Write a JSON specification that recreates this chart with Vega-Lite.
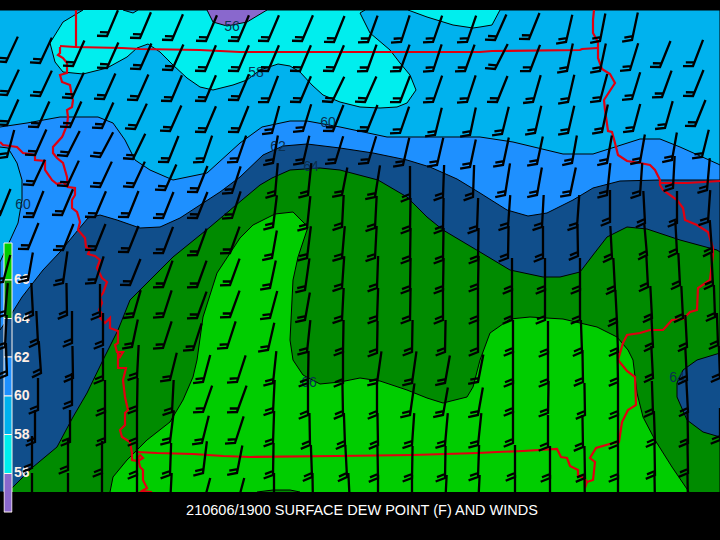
{
  "$schema": "https://vega.github.io/schema/vega-lite/v6.json",
  "width": 720,
  "height": 540,
  "padding": 0,
  "autosize": "none",
  "background": "#000000",
  "config": {"view": {"stroke": null}},
  "datasets": {
    "contours": [
      {"poly":"base","band":"58-60","x":0,"y":10},{"poly":"base","band":"58-60","x":720,"y":10},{"poly":"base","band":"58-60","x":720,"y":492},{"poly":"base","band":"58-60","x":0,"y":492},
      {"poly":"c1","band":"56-58","x":83,"y":10},{"poly":"c1","band":"56-58","x":63,"y":22},{"poly":"c1","band":"56-58","x":50,"y":43},{"poly":"c1","band":"56-58","x":55,"y":62},{"poly":"c1","band":"56-58","x":63,"y":72},{"poly":"c1","band":"56-58","x":83,"y":74},{"poly":"c1","band":"56-58","x":107,"y":68},{"poly":"c1","band":"56-58","x":127,"y":57},{"poly":"c1","band":"56-58","x":137,"y":48},{"poly":"c1","band":"56-58","x":148,"y":44},{"poly":"c1","band":"56-58","x":160,"y":52},{"poly":"c1","band":"56-58","x":173,"y":65},{"poly":"c1","band":"56-58","x":187,"y":78},{"poly":"c1","band":"56-58","x":200,"y":87},{"poly":"c1","band":"56-58","x":213,"y":90},{"poly":"c1","band":"56-58","x":233,"y":85},{"poly":"c1","band":"56-58","x":247,"y":80},{"poly":"c1","band":"56-58","x":260,"y":70},{"poly":"c1","band":"56-58","x":278,"y":64},{"poly":"c1","band":"56-58","x":290,"y":66},{"poly":"c1","band":"56-58","x":300,"y":72},{"poly":"c1","band":"56-58","x":312,"y":85},{"poly":"c1","band":"56-58","x":323,"y":95},{"poly":"c1","band":"56-58","x":340,"y":102},{"poly":"c1","band":"56-58","x":360,"y":107},{"poly":"c1","band":"56-58","x":380,"y":108},{"poly":"c1","band":"56-58","x":397,"y":107},{"poly":"c1","band":"56-58","x":407,"y":103},{"poly":"c1","band":"56-58","x":416,"y":90},{"poly":"c1","band":"56-58","x":410,"y":75},{"poly":"c1","band":"56-58","x":400,"y":63},{"poly":"c1","band":"56-58","x":390,"y":50},{"poly":"c1","band":"56-58","x":370,"y":33},{"poly":"c1","band":"56-58","x":365,"y":23},{"poly":"c1","band":"56-58","x":360,"y":13},{"poly":"c1","band":"56-58","x":365,"y":10},{"poly":"c1","band":"56-58","x":138,"y":10},{"poly":"c1","band":"56-58","x":133,"y":13},{"poly":"c1","band":"56-58","x":123,"y":10},
      {"poly":"c2","band":"56-58","x":408,"y":10},{"poly":"c2","band":"56-58","x":427,"y":17},{"poly":"c2","band":"56-58","x":453,"y":25},{"poly":"c2","band":"56-58","x":473,"y":28},{"poly":"c2","band":"56-58","x":480,"y":27},{"poly":"c2","band":"56-58","x":492,"y":25},{"poly":"c2","band":"56-58","x":500,"y":10},
      {"poly":"p1","band":"below 56","x":207,"y":10},{"poly":"p1","band":"below 56","x":213,"y":22},{"poly":"p1","band":"below 56","x":227,"y":26},{"poly":"p1","band":"below 56","x":247,"y":22},{"poly":"p1","band":"below 56","x":267,"y":10},
      {"poly":"d1","band":"60-62","x":0,"y":127},{"poly":"d1","band":"60-62","x":27,"y":123},{"poly":"d1","band":"60-62","x":60,"y":117},{"poly":"d1","band":"60-62","x":98,"y":117},{"poly":"d1","band":"60-62","x":113,"y":123},{"poly":"d1","band":"60-62","x":125,"y":140},{"poly":"d1","band":"60-62","x":135,"y":160},{"poly":"d1","band":"60-62","x":150,"y":170},{"poly":"d1","band":"60-62","x":173,"y":180},{"poly":"d1","band":"60-62","x":207,"y":173},{"poly":"d1","band":"60-62","x":240,"y":143},{"poly":"d1","band":"60-62","x":262,"y":127},{"poly":"d1","band":"60-62","x":290,"y":121},{"poly":"d1","band":"60-62","x":307,"y":121},{"poly":"d1","band":"60-62","x":340,"y":127},{"poly":"d1","band":"60-62","x":387,"y":137},{"poly":"d1","band":"60-62","x":427,"y":137},{"poly":"d1","band":"60-62","x":480,"y":137},{"poly":"d1","band":"60-62","x":513,"y":142},{"poly":"d1","band":"60-62","x":563,"y":154},{"poly":"d1","band":"60-62","x":593,"y":154},{"poly":"d1","band":"60-62","x":640,"y":139},{"poly":"d1","band":"60-62","x":660,"y":139},{"poly":"d1","band":"60-62","x":680,"y":147},{"poly":"d1","band":"60-62","x":718,"y":164},{"poly":"d1","band":"60-62","x":720,"y":165},{"poly":"d1","band":"60-62","x":720,"y":260},{"poly":"d1","band":"60-62","x":100,"y":400},{"poly":"d1","band":"60-62","x":0,"y":400},{"poly":"d1","band":"60-62","x":0,"y":262},{"poly":"d1","band":"60-62","x":7,"y":247},{"poly":"d1","band":"60-62","x":18,"y":223},{"poly":"d1","band":"60-62","x":22,"y":200},{"poly":"d1","band":"60-62","x":22,"y":180},{"poly":"d1","band":"60-62","x":17,"y":163},{"poly":"d1","band":"60-62","x":8,"y":148},{"poly":"d1","band":"60-62","x":0,"y":147},
      {"poly":"n1","band":"62-64","x":0,"y":330},{"poly":"n1","band":"62-64","x":12,"y":313},{"poly":"n1","band":"62-64","x":22,"y":297},{"poly":"n1","band":"62-64","x":43,"y":270},{"poly":"n1","band":"62-64","x":60,"y":252},{"poly":"n1","band":"62-64","x":78,"y":230},{"poly":"n1","band":"62-64","x":88,"y":218},{"poly":"n1","band":"62-64","x":100,"y":215},{"poly":"n1","band":"62-64","x":117,"y":220},{"poly":"n1","band":"62-64","x":140,"y":228},{"poly":"n1","band":"62-64","x":160,"y":227},{"poly":"n1","band":"62-64","x":180,"y":218},{"poly":"n1","band":"62-64","x":200,"y":205},{"poly":"n1","band":"62-64","x":220,"y":192},{"poly":"n1","band":"62-64","x":240,"y":177},{"poly":"n1","band":"62-64","x":263,"y":155},{"poly":"n1","band":"62-64","x":283,"y":146},{"poly":"n1","band":"62-64","x":307,"y":144},{"poly":"n1","band":"62-64","x":340,"y":148},{"poly":"n1","band":"62-64","x":373,"y":153},{"poly":"n1","band":"62-64","x":407,"y":160},{"poly":"n1","band":"62-64","x":430,"y":167},{"poly":"n1","band":"62-64","x":457,"y":179},{"poly":"n1","band":"62-64","x":480,"y":193},{"poly":"n1","band":"62-64","x":507,"y":210},{"poly":"n1","band":"62-64","x":528,"y":216},{"poly":"n1","band":"62-64","x":547,"y":213},{"poly":"n1","band":"62-64","x":573,"y":200},{"poly":"n1","band":"62-64","x":593,"y":188},{"poly":"n1","band":"62-64","x":620,"y":181},{"poly":"n1","band":"62-64","x":660,"y":180},{"poly":"n1","band":"62-64","x":720,"y":180},{"poly":"n1","band":"62-64","x":720,"y":300},{"poly":"n1","band":"62-64","x":300,"y":492},{"poly":"n1","band":"62-64","x":0,"y":492},
      {"poly":"g1","band":"64-66","x":8,"y":492},{"poly":"g1","band":"64-66","x":12,"y":488},{"poly":"g1","band":"64-66","x":33,"y":467},{"poly":"g1","band":"64-66","x":57,"y":447},{"poly":"g1","band":"64-66","x":73,"y":417},{"poly":"g1","band":"64-66","x":87,"y":393},{"poly":"g1","band":"64-66","x":103,"y":360},{"poly":"g1","band":"64-66","x":108,"y":350},{"poly":"g1","band":"64-66","x":118,"y":330},{"poly":"g1","band":"64-66","x":130,"y":300},{"poly":"g1","band":"64-66","x":143,"y":287},{"poly":"g1","band":"64-66","x":173,"y":257},{"poly":"g1","band":"64-66","x":210,"y":227},{"poly":"g1","band":"64-66","x":242,"y":200},{"poly":"g1","band":"64-66","x":260,"y":185},{"poly":"g1","band":"64-66","x":272,"y":178},{"poly":"g1","band":"64-66","x":290,"y":170},{"poly":"g1","band":"64-66","x":320,"y":168},{"poly":"g1","band":"64-66","x":340,"y":170},{"poly":"g1","band":"64-66","x":378,"y":180},{"poly":"g1","band":"64-66","x":407,"y":197},{"poly":"g1","band":"64-66","x":427,"y":217},{"poly":"g1","band":"64-66","x":443,"y":230},{"poly":"g1","band":"64-66","x":480,"y":252},{"poly":"g1","band":"64-66","x":510,"y":270},{"poly":"g1","band":"64-66","x":543,"y":277},{"poly":"g1","band":"64-66","x":560,"y":277},{"poly":"g1","band":"64-66","x":580,"y":272},{"poly":"g1","band":"64-66","x":593,"y":255},{"poly":"g1","band":"64-66","x":607,"y":237},{"poly":"g1","band":"64-66","x":627,"y":227},{"poly":"g1","band":"64-66","x":647,"y":229},{"poly":"g1","band":"64-66","x":680,"y":240},{"poly":"g1","band":"64-66","x":717,"y":250},{"poly":"g1","band":"64-66","x":720,"y":252},{"poly":"g1","band":"64-66","x":720,"y":492},
      {"poly":"n2","band":"62-64","x":720,"y":353},{"poly":"n2","band":"62-64","x":697,"y":360},{"poly":"n2","band":"62-64","x":683,"y":370},{"poly":"n2","band":"62-64","x":677,"y":383},{"poly":"n2","band":"62-64","x":677,"y":397},{"poly":"n2","band":"62-64","x":687,"y":420},{"poly":"n2","band":"62-64","x":703,"y":432},{"poly":"n2","band":"62-64","x":720,"y":437},
      {"poly":"l1","band":"66-68","x":110,"y":492},{"poly":"l1","band":"66-68","x":113,"y":477},{"poly":"l1","band":"66-68","x":127,"y":460},{"poly":"l1","band":"66-68","x":147,"y":440},{"poly":"l1","band":"66-68","x":170,"y":422},{"poly":"l1","band":"66-68","x":183,"y":400},{"poly":"l1","band":"66-68","x":193,"y":377},{"poly":"l1","band":"66-68","x":197,"y":360},{"poly":"l1","band":"66-68","x":203,"y":317},{"poly":"l1","band":"66-68","x":217,"y":273},{"poly":"l1","band":"66-68","x":240,"y":238},{"poly":"l1","band":"66-68","x":253,"y":225},{"poly":"l1","band":"66-68","x":275,"y":214},{"poly":"l1","band":"66-68","x":293,"y":212},{"poly":"l1","band":"66-68","x":308,"y":227},{"poly":"l1","band":"66-68","x":298,"y":257},{"poly":"l1","band":"66-68","x":293,"y":280},{"poly":"l1","band":"66-68","x":291,"y":320},{"poly":"l1","band":"66-68","x":290,"y":340},{"poly":"l1","band":"66-68","x":293,"y":360},{"poly":"l1","band":"66-68","x":303,"y":375},{"poly":"l1","band":"66-68","x":320,"y":384},{"poly":"l1","band":"66-68","x":340,"y":382},{"poly":"l1","band":"66-68","x":360,"y":378},{"poly":"l1","band":"66-68","x":380,"y":381},{"poly":"l1","band":"66-68","x":407,"y":390},{"poly":"l1","band":"66-68","x":427,"y":398},{"poly":"l1","band":"66-68","x":443,"y":403},{"poly":"l1","band":"66-68","x":467,"y":397},{"poly":"l1","band":"66-68","x":473,"y":387},{"poly":"l1","band":"66-68","x":480,"y":360},{"poly":"l1","band":"66-68","x":490,"y":333},{"poly":"l1","band":"66-68","x":510,"y":319},{"poly":"l1","band":"66-68","x":530,"y":317},{"poly":"l1","band":"66-68","x":563,"y":319},{"poly":"l1","band":"66-68","x":597,"y":327},{"poly":"l1","band":"66-68","x":617,"y":337},{"poly":"l1","band":"66-68","x":628,"y":350},{"poly":"l1","band":"66-68","x":633,"y":360},{"poly":"l1","band":"66-68","x":637,"y":393},{"poly":"l1","band":"66-68","x":643,"y":417},{"poly":"l1","band":"66-68","x":655,"y":440},{"poly":"l1","band":"66-68","x":672,"y":467},{"poly":"l1","band":"66-68","x":689,"y":492},
      {"poly":"g2","band":"64-66","x":257,"y":492},{"poly":"g2","band":"64-66","x":273,"y":490},{"poly":"g2","band":"64-66","x":290,"y":490},{"poly":"g2","band":"64-66","x":300,"y":492}
    ],
    "borders": [
      {"id":"a","x":76,"y":10},{"id":"a","x":76,"y":47},
      {"id":"b","x":60,"y":46},{"id":"b","x":75,"y":47},{"id":"b","x":122,"y":48},{"id":"b","x":140,"y":49},{"id":"b","x":200,"y":50},{"id":"b","x":240,"y":52},{"id":"b","x":480,"y":52},{"id":"b","x":492,"y":51},{"id":"b","x":580,"y":50},{"id":"b","x":582,"y":49},{"id":"b","x":598,"y":48},
      {"id":"c","x":60,"y":47},{"id":"c","x":60,"y":53},{"id":"c","x":58,"y":55},{"id":"c","x":63,"y":58},{"id":"c","x":67,"y":63},{"id":"c","x":67,"y":73},{"id":"c","x":60,"y":75},{"id":"c","x":62,"y":82},{"id":"c","x":70,"y":85},{"id":"c","x":72,"y":97},{"id":"c","x":73,"y":100},{"id":"c","x":72,"y":107},{"id":"c","x":67,"y":110},{"id":"c","x":68,"y":117},{"id":"c","x":67,"y":125},{"id":"c","x":63,"y":135},{"id":"c","x":62,"y":137},{"id":"c","x":53,"y":147},{"id":"c","x":53,"y":153},{"id":"c","x":57,"y":158},{"id":"c","x":63,"y":163},{"id":"c","x":67,"y":177},{"id":"c","x":68,"y":187},{"id":"c","x":75,"y":188},{"id":"c","x":75,"y":195},{"id":"c","x":72,"y":200},{"id":"c","x":72,"y":208},{"id":"c","x":77,"y":212},{"id":"c","x":80,"y":222},{"id":"c","x":78,"y":230},{"id":"c","x":85,"y":238},{"id":"c","x":86,"y":247},{"id":"c","x":90,"y":249},{"id":"c","x":88,"y":254},{"id":"c","x":95,"y":256},{"id":"c","x":100,"y":260},{"id":"c","x":97,"y":268},{"id":"c","x":102,"y":278},{"id":"c","x":107,"y":282},{"id":"c","x":103,"y":293},{"id":"c","x":100,"y":297},{"id":"c","x":102,"y":303},{"id":"c","x":99,"y":310},{"id":"c","x":103,"y":315},{"id":"c","x":100,"y":318},{"id":"c","x":105,"y":323},{"id":"c","x":110,"y":318},{"id":"c","x":110,"y":328},{"id":"c","x":118,"y":331},{"id":"c","x":118,"y":343},{"id":"c","x":115,"y":345},{"id":"c","x":117,"y":352},{"id":"c","x":123,"y":352},{"id":"c","x":120,"y":357},{"id":"c","x":118,"y":353},{"id":"c","x":118,"y":368},{"id":"c","x":126,"y":368},{"id":"c","x":123,"y":380},{"id":"c","x":125,"y":397},{"id":"c","x":128,"y":410},{"id":"c","x":125,"y":413},{"id":"c","x":125,"y":425},{"id":"c","x":120,"y":430},{"id":"c","x":122,"y":437},{"id":"c","x":130,"y":442},{"id":"c","x":132,"y":453},{"id":"c","x":132,"y":460},{"id":"c","x":138,"y":461},{"id":"c","x":143,"y":458},{"id":"c","x":140,"y":455},{"id":"c","x":138,"y":458},{"id":"c","x":140,"y":467},{"id":"c","x":143,"y":470},{"id":"c","x":143,"y":480},{"id":"c","x":147,"y":488},{"id":"c","x":142,"y":491},{"id":"c","x":152,"y":492},
      {"id":"d","x":0,"y":142},{"id":"d","x":3,"y":145},{"id":"d","x":17,"y":147},{"id":"d","x":23,"y":153},{"id":"d","x":35,"y":155},{"id":"d","x":35,"y":160},{"id":"d","x":45,"y":161},{"id":"d","x":45,"y":170},{"id":"d","x":50,"y":177},{"id":"d","x":52,"y":180},{"id":"d","x":57,"y":184},{"id":"d","x":63,"y":182},{"id":"d","x":68,"y":187},
      {"id":"e","x":137,"y":452},{"id":"e","x":157,"y":453},{"id":"e","x":193,"y":454},{"id":"e","x":223,"y":456},{"id":"e","x":250,"y":457},{"id":"e","x":337,"y":456},{"id":"e","x":413,"y":455},{"id":"e","x":478,"y":453},{"id":"e","x":497,"y":452},{"id":"e","x":523,"y":451},{"id":"e","x":557,"y":449},{"id":"e","x":561,"y":457},{"id":"e","x":567,"y":458},{"id":"e","x":570,"y":466},{"id":"e","x":578,"y":470},{"id":"e","x":578,"y":475},{"id":"e","x":585,"y":479},{"id":"e","x":587,"y":482},{"id":"e","x":585,"y":488},
      {"id":"f","x":587,"y":482},{"id":"f","x":593,"y":480},{"id":"f","x":595,"y":462},{"id":"f","x":590,"y":458},{"id":"f","x":596,"y":448},{"id":"f","x":613,"y":443},{"id":"f","x":619,"y":442},{"id":"f","x":622,"y":422},{"id":"f","x":628,"y":410},{"id":"f","x":636,"y":405},{"id":"f","x":635,"y":377},{"id":"f","x":627,"y":371},{"id":"f","x":618,"y":360},{"id":"f","x":623,"y":343},{"id":"f","x":627,"y":335},{"id":"f","x":640,"y":333},{"id":"f","x":650,"y":330},{"id":"f","x":663,"y":330},{"id":"f","x":672,"y":320},{"id":"f","x":683,"y":319},{"id":"f","x":690,"y":312},{"id":"f","x":697,"y":310},{"id":"f","x":698,"y":288},{"id":"f","x":710,"y":280},{"id":"f","x":713,"y":255},{"id":"f","x":713,"y":248},{"id":"f","x":708,"y":232},{"id":"f","x":697,"y":225},{"id":"f","x":685,"y":220},{"id":"f","x":683,"y":208},{"id":"f","x":677,"y":200},{"id":"f","x":663,"y":190},{"id":"f","x":660,"y":185},{"id":"f","x":660,"y":180},{"id":"f","x":655,"y":170},{"id":"f","x":650,"y":165},{"id":"f","x":640,"y":163},{"id":"f","x":627,"y":161},{"id":"f","x":618,"y":155},{"id":"f","x":615,"y":143},{"id":"f","x":612,"y":132},{"id":"f","x":608,"y":131},{"id":"f","x":605,"y":110},{"id":"f","x":604,"y":100},{"id":"f","x":615,"y":83},{"id":"f","x":610,"y":74},{"id":"f","x":602,"y":69},{"id":"f","x":598,"y":58},{"id":"f","x":598,"y":42},{"id":"f","x":593,"y":33},{"id":"f","x":593,"y":20},{"id":"f","x":594,"y":10},
      {"id":"g","x":660,"y":183},{"id":"g","x":687,"y":183},{"id":"g","x":720,"y":181}
    ],
    "scale": [
      {"band":"66-68","x":4,"x2":12,"y":243,"y2":280},
      {"band":"64-66","x":4,"x2":12,"y":280,"y2":318.5},
      {"band":"62-64","x":4,"x2":12,"y":318.5,"y2":357},
      {"band":"60-62","x":4,"x2":12,"y":357,"y2":396},
      {"band":"58-60","x":4,"x2":12,"y":396,"y2":434.5},
      {"band":"56-58","x":4,"x2":12,"y":434.5,"y2":473.5},
      {"band":"below 56","x":4,"x2":12,"y":473.5,"y2":512}
    ],
    "scaleText": [
      {"x":14,"y":280,"t":"66"},{"x":14,"y":319,"t":"64"},{"x":14,"y":358,"t":"62"},{"x":14,"y":396,"t":"60"},{"x":14,"y":435,"t":"58"},{"x":14,"y":473,"t":"56"}
    ],
    "contourText": [
      {"x":232,"y":27,"t":"56"},{"x":256,"y":73,"t":"58"},{"x":328,"y":123,"t":"60"},{"x":278,"y":147,"t":"62"},{"x":311,"y":167,"t":"64"},{"x":23,"y":205,"t":"60"},{"x":309,"y":383,"t":"66"},{"x":677,"y":378,"t":"64"}
    ],
    "frame": [
      {"x":0,"x2":720,"y":0,"y2":10},
      {"x":0,"x2":3.5,"y":492,"y2":540},
      {"x":12.5,"x2":720,"y":492,"y2":540},
      {"x":0,"x2":720,"y":513,"y2":540}
    ],
    "winds": [
      {"x":107,"y":36,"dir":23},{"x":140,"y":38,"dir":23},{"x":172,"y":40,"dir":23},{"x":206,"y":41,"dir":23},{"x":238,"y":41,"dir":23},{"x":268,"y":41,"dir":23},{"x":302,"y":41,"dir":23},{"x":334,"y":42,"dir":22},{"x":368,"y":42,"dir":20},{"x":401,"y":42,"dir":18},{"x":433,"y":42,"dir":19},{"x":467,"y":42,"dir":19},{"x":495,"y":40,"dir":24},{"x":529,"y":39,"dir":22},{"x":566,"y":42,"dir":13},{"x":600,"y":41,"dir":11},{"x":632,"y":40,"dir":12},
      {"x":6,"y":62,"dir":25},{"x":40,"y":63,"dir":25},{"x":73,"y":66,"dir":24},{"x":107,"y":68,"dir":24},{"x":140,"y":69,"dir":24},{"x":172,"y":70,"dir":24},{"x":205,"y":71,"dir":23},{"x":238,"y":71,"dir":23},{"x":268,"y":71,"dir":23},{"x":300,"y":71,"dir":23},{"x":333,"y":71,"dir":23},{"x":367,"y":71,"dir":20},{"x":400,"y":71,"dir":20},{"x":433,"y":71,"dir":18},{"x":465,"y":71,"dir":20},{"x":495,"y":69,"dir":27},{"x":530,"y":71,"dir":21},{"x":567,"y":71,"dir":12},{"x":600,"y":71,"dir":12},{"x":630,"y":70,"dir":17},{"x":660,"y":67,"dir":22},{"x":693,"y":66,"dir":21},
      {"x":7,"y":95,"dir":25},{"x":40,"y":96,"dir":25},{"x":72,"y":98,"dir":25},{"x":104,"y":99,"dir":24},{"x":137,"y":100,"dir":24},{"x":171,"y":101,"dir":23},{"x":205,"y":101,"dir":23},{"x":238,"y":100,"dir":23},{"x":268,"y":102,"dir":21},{"x":300,"y":102,"dir":23},{"x":332,"y":102,"dir":26},{"x":365,"y":102,"dir":24},{"x":400,"y":102,"dir":21},{"x":433,"y":102,"dir":19},{"x":467,"y":102,"dir":18},{"x":497,"y":102,"dir":22},{"x":533,"y":102,"dir":16},{"x":568,"y":102,"dir":13},{"x":600,"y":101,"dir":15},{"x":632,"y":99,"dir":17},{"x":662,"y":97,"dir":20},{"x":693,"y":96,"dir":22},
      {"x":7,"y":125,"dir":24},{"x":38,"y":127,"dir":24},{"x":70,"y":127,"dir":24},{"x":102,"y":128,"dir":24},{"x":135,"y":129,"dir":25},{"x":170,"y":131,"dir":24},{"x":205,"y":132,"dir":23},{"x":238,"y":132,"dir":22},{"x":272,"y":133,"dir":15},{"x":303,"y":131,"dir":17},{"x":333,"y":131,"dir":22},{"x":367,"y":131,"dir":22},{"x":400,"y":133,"dir":19},{"x":435,"y":135,"dir":14},{"x":470,"y":135,"dir":12},{"x":502,"y":134,"dir":14},{"x":535,"y":133,"dir":13},{"x":568,"y":133,"dir":13},{"x":602,"y":132,"dir":12},{"x":633,"y":131,"dir":15},{"x":665,"y":128,"dir":16},{"x":695,"y":126,"dir":22},
      {"x":7,"y":157,"dir":15},{"x":35,"y":155,"dir":24},{"x":67,"y":156,"dir":27},{"x":100,"y":157,"dir":28},{"x":133,"y":159,"dir":26},{"x":168,"y":162,"dir":22},{"x":203,"y":162,"dir":19},{"x":237,"y":162,"dir":19},{"x":273,"y":163,"dir":10},{"x":303,"y":163,"dir":13},{"x":335,"y":163,"dir":17},{"x":368,"y":163,"dir":17},{"x":403,"y":165,"dir":13},{"x":437,"y":165,"dir":13},{"x":470,"y":167,"dir":12},{"x":503,"y":165,"dir":12},{"x":537,"y":164,"dir":12},{"x":572,"y":163,"dir":10},{"x":607,"y":163,"dir":10},{"x":640,"y":162,"dir":10},{"x":672,"y":160,"dir":10},{"x":702,"y":157,"dir":14},
      {"x":33,"y":185,"dir":25},{"x":67,"y":186,"dir":25},{"x":100,"y":187,"dir":25},{"x":133,"y":187,"dir":25},{"x":165,"y":190,"dir":24},{"x":197,"y":192,"dir":22},{"x":232,"y":193,"dir":18},{"x":275,"y":195,"dir":5},{"x":308,"y":195,"dir":6},{"x":342,"y":195,"dir":11},{"x":375,"y":197,"dir":9},{"x":410,"y":198,"dir":0},{"x":443,"y":197,"dir":2},{"x":473,"y":197,"dir":2},{"x":505,"y":195,"dir":9},{"x":537,"y":195,"dir":10},{"x":570,"y":195,"dir":12},{"x":607,"y":195,"dir":6},{"x":640,"y":195,"dir":4},{"x":673,"y":188,"dir":3},{"x":707,"y":190,"dir":5},
      {"x":0,"y":215,"dir":22},{"x":33,"y":217,"dir":22},{"x":62,"y":215,"dir":23},{"x":95,"y":217,"dir":23},{"x":128,"y":217,"dir":22},{"x":163,"y":218,"dir":22},{"x":197,"y":218,"dir":22},{"x":232,"y":218,"dir":18},{"x":273,"y":227,"dir":7},{"x":307,"y":228,"dir":6},{"x":342,"y":227,"dir":3},{"x":375,"y":228,"dir":3},{"x":410,"y":230,"dir":1},{"x":443,"y":230,"dir":1},{"x":477,"y":230,"dir":2},{"x":508,"y":227,"dir":4},{"x":542,"y":227,"dir":3},{"x":577,"y":227,"dir":4},{"x":610,"y":222,"dir":0},{"x":645,"y":223,"dir":-3},{"x":677,"y":223,"dir":0},{"x":708,"y":222,"dir":4},
      {"x":28,"y":249,"dir":22},{"x":63,"y":250,"dir":22},{"x":95,"y":250,"dir":22},{"x":128,"y":252,"dir":22},{"x":163,"y":253,"dir":21},{"x":197,"y":255,"dir":20},{"x":230,"y":253,"dir":20},{"x":272,"y":258,"dir":10},{"x":307,"y":258,"dir":7},{"x":342,"y":258,"dir":5},{"x":375,"y":258,"dir":3},{"x":410,"y":260,"dir":1},{"x":443,"y":260,"dir":1},{"x":478,"y":260,"dir":1},{"x":508,"y":258,"dir":1},{"x":543,"y":258,"dir":0},{"x":578,"y":256,"dir":-1},{"x":612,"y":258,"dir":-3},{"x":647,"y":255,"dir":-5},{"x":677,"y":253,"dir":-3},{"x":712,"y":252,"dir":-4},
      {"x":3,"y":282,"dir":15},{"x":28,"y":280,"dir":10},{"x":63,"y":283,"dir":8},{"x":95,"y":283,"dir":18},{"x":130,"y":285,"dir":22},{"x":163,"y":287,"dir":20},{"x":197,"y":287,"dir":20},{"x":230,"y":285,"dir":20},{"x":270,"y":288,"dir":12},{"x":305,"y":290,"dir":8},{"x":342,"y":288,"dir":4},{"x":377,"y":288,"dir":2},{"x":410,"y":290,"dir":1},{"x":443,"y":290,"dir":1},{"x":478,"y":288,"dir":1},{"x":512,"y":290,"dir":0},{"x":545,"y":290,"dir":0},{"x":580,"y":290,"dir":0},{"x":615,"y":290,"dir":-3},{"x":648,"y":287,"dir":-3},{"x":680,"y":285,"dir":-3},{"x":713,"y":285,"dir":-3},
      {"x":5,"y":315,"dir":5},{"x":33,"y":315,"dir":-3},{"x":67,"y":315,"dir":-1},{"x":100,"y":316,"dir":0},{"x":133,"y":317,"dir":16},{"x":163,"y":317,"dir":18},{"x":197,"y":318,"dir":20},{"x":230,"y":317,"dir":20},{"x":270,"y":318,"dir":15},{"x":305,"y":320,"dir":10},{"x":342,"y":320,"dir":3},{"x":377,"y":320,"dir":2},{"x":410,"y":320,"dir":1},{"x":443,"y":320,"dir":0},{"x":478,"y":320,"dir":0},{"x":512,"y":320,"dir":0},{"x":545,"y":320,"dir":0},{"x":580,"y":320,"dir":0},{"x":617,"y":322,"dir":-3},{"x":652,"y":318,"dir":-3},{"x":683,"y":318,"dir":-3},{"x":715,"y":317,"dir":-2},
      {"x":5,"y":347,"dir":3},{"x":38,"y":343,"dir":-3},{"x":72,"y":343,"dir":0},{"x":103,"y":345,"dir":0},{"x":132,"y":347,"dir":12},{"x":163,"y":348,"dir":18},{"x":193,"y":350,"dir":18},{"x":227,"y":348,"dir":18},{"x":268,"y":350,"dir":13},{"x":307,"y":352,"dir":6},{"x":343,"y":352,"dir":1},{"x":377,"y":353,"dir":1},{"x":412,"y":352,"dir":1},{"x":445,"y":352,"dir":1},{"x":478,"y":352,"dir":0},{"x":513,"y":352,"dir":0},{"x":548,"y":353,"dir":0},{"x":582,"y":352,"dir":-2},{"x":618,"y":352,"dir":-2},{"x":653,"y":347,"dir":-3},{"x":687,"y":347,"dir":-3},{"x":718,"y":345,"dir":-2},
      {"x":7,"y":375,"dir":-2},{"x":41,"y":373,"dir":-4},{"x":73,"y":378,"dir":-1},{"x":103,"y":380,"dir":0},{"x":137,"y":377,"dir":3},{"x":170,"y":380,"dir":14},{"x":203,"y":382,"dir":15},{"x":237,"y":382,"dir":18},{"x":273,"y":383,"dir":6},{"x":308,"y":383,"dir":1},{"x":343,"y":383,"dir":0},{"x":377,"y":383,"dir":8},{"x":412,"y":383,"dir":8},{"x":445,"y":383,"dir":10},{"x":478,"y":382,"dir":11},{"x":513,"y":383,"dir":0},{"x":548,"y":383,"dir":0},{"x":583,"y":382,"dir":-1},{"x":618,"y":382,"dir":-1},{"x":653,"y":378,"dir":-3},{"x":687,"y":380,"dir":-3},{"x":720,"y":378,"dir":-2},
      {"x":38,"y":410,"dir":0},{"x":72,"y":405,"dir":0},{"x":105,"y":412,"dir":0},{"x":137,"y":410,"dir":1},{"x":172,"y":412,"dir":3},{"x":203,"y":412,"dir":19},{"x":237,"y":412,"dir":20},{"x":273,"y":412,"dir":3},{"x":308,"y":415,"dir":0},{"x":343,"y":415,"dir":-1},{"x":377,"y":415,"dir":0},{"x":410,"y":415,"dir":8},{"x":443,"y":415,"dir":10},{"x":478,"y":415,"dir":10},{"x":513,"y":412,"dir":0},{"x":548,"y":413,"dir":1},{"x":585,"y":415,"dir":-1},{"x":618,"y":415,"dir":0},{"x":653,"y":413,"dir":-2},{"x":688,"y":412,"dir":-3},
      {"x":35,"y":442,"dir":0},{"x":70,"y":442,"dir":0},{"x":105,"y":442,"dir":0},{"x":137,"y":442,"dir":0},{"x":170,"y":442,"dir":7},{"x":202,"y":443,"dir":14},{"x":235,"y":443,"dir":18},{"x":273,"y":443,"dir":2},{"x":310,"y":445,"dir":-1},{"x":345,"y":445,"dir":-2},{"x":378,"y":445,"dir":-1},{"x":412,"y":445,"dir":4},{"x":445,"y":445,"dir":5},{"x":478,"y":445,"dir":6},{"x":513,"y":443,"dir":0},{"x":548,"y":447,"dir":0},{"x":583,"y":447,"dir":-1},{"x":618,"y":445,"dir":0},{"x":655,"y":443,"dir":-2},{"x":688,"y":443,"dir":-1},{"x":720,"y":440,"dir":0},
      {"x":32,"y":468,"dir":0},{"x":68,"y":470,"dir":0},{"x":102,"y":473,"dir":0},{"x":137,"y":475,"dir":0},{"x":170,"y":475,"dir":2},{"x":203,"y":473,"dir":7},{"x":237,"y":473,"dir":11},{"x":273,"y":475,"dir":1},{"x":312,"y":477,"dir":-2},{"x":347,"y":477,"dir":-3},{"x":378,"y":478,"dir":-1},{"x":412,"y":478,"dir":1},{"x":445,"y":478,"dir":1},{"x":478,"y":477,"dir":2},{"x":515,"y":477,"dir":0},{"x":550,"y":478,"dir":0},{"x":585,"y":478,"dir":-1},{"x":618,"y":478,"dir":0},{"x":655,"y":475,"dir":-1},{"x":688,"y":473,"dir":-1},
      {"x":32,"y":505,"dir":0},{"x":68,"y":505,"dir":0},{"x":102,"y":505,"dir":0},{"x":137,"y":505,"dir":0},{"x":170,"y":505,"dir":3},{"x":203,"y":505,"dir":15},{"x":237,"y":505,"dir":15},{"x":274,"y":505,"dir":0},{"x":313,"y":505,"dir":-1},{"x":350,"y":505,"dir":-3},{"x":378,"y":507,"dir":0},{"x":412,"y":507,"dir":0},{"x":445,"y":507,"dir":3},{"x":478,"y":507,"dir":3},{"x":515,"y":507,"dir":0},{"x":550,"y":507,"dir":0},{"x":585,"y":507,"dir":-1},{"x":618,"y":507,"dir":0},{"x":655,"y":505,"dir":-1},{"x":688,"y":505,"dir":-1}
    ]
  },
  "data": {"name": "contours"},
  "encoding": {
    "x": {"field": "x", "type": "quantitative", "axis": null, "scale": {"domain": [0, 720], "nice": false, "zero": false}},
    "y": {"field": "y", "type": "quantitative", "axis": null, "scale": {"domain": [0, 540], "range": [0, 540], "nice": false, "zero": false}}
  },
  "layer": [
    {
      "mark": {"type": "line", "stroke": "#000000", "strokeWidth": 1, "interpolate": "linear"},
      "encoding": {
        "detail": {"field": "poly"},
        "order": {"value": null},
        "fill": {"field": "band", "type": "nominal", "legend": null, "scale": {"domain": ["below 56", "56-58", "58-60", "60-62", "62-64", "64-66", "66-68"], "range": ["#8968CD", "#00EEEE", "#00B2EE", "#1E90FF", "#104E8B", "#008B00", "#00CD00"]}}
      }
    },
    {
      "data": {"name": "borders"},
      "mark": {"type": "line", "stroke": "#E00010", "strokeWidth": 2.2},
      "encoding": {"detail": {"field": "id"}, "order": {"value": null}}
    },
    {
      "data": {"name": "scale"},
      "mark": {"type": "rect", "stroke": "#FFF5EE", "strokeWidth": 1},
      "encoding": {
        "x2": {"field": "x2"},
        "y2": {"field": "y2"},
        "fill": {"field": "band", "type": "nominal", "legend": null}
      }
    },
    {
      "data": {"name": "scaleText"},
      "mark": {"type": "text", "align": "left", "baseline": "middle", "font": "Liberation Sans", "fontSize": 14, "fontWeight": "bold", "fill": "#FFEFE5"},
      "encoding": {"text": {"field": "t"}}
    },
    {
      "data": {"name": "contourText"},
      "mark": {"type": "text", "align": "center", "baseline": "middle", "font": "Liberation Sans", "fontSize": 14, "fill": "#0A3050"},
      "encoding": {"text": {"field": "t"}}
    },
    {
      "data": {"name": "winds"},
      "mark": {"type": "point", "filled": false, "stroke": "#000000", "strokeWidth": 2.3, "size": 4, "opacity": 1},
      "encoding": {
        "angle": {"field": "dir", "type": "quantitative", "scale": null},
        "shape": {
          "condition": {"test": "datum.dir < 10", "value": "M0,-32L0,0L-9.3,3.7M0,-4L-8,-0.8"},
          "value": "M0,-28L0,0L-9.3,3.7M0,-4L-8,-0.8"
        }
      }
    },
    {
      "data": {"name": "frame"},
      "mark": {"type": "rect", "fill": "#000000"},
      "encoding": {"x2": {"field": "x2"}, "y2": {"field": "y2"}}
    },
    {
      "data": {"values": [{"x": 362, "y": 511, "t": "210606/1900 SURFACE DEW POINT (F) AND WINDS"}]},
      "mark": {"type": "text", "align": "center", "baseline": "middle", "font": "Liberation Sans", "fontSize": 14.5, "fill": "#FFFFFF"},
      "encoding": {"text": {"field": "t"}}
    }
  ]
}
